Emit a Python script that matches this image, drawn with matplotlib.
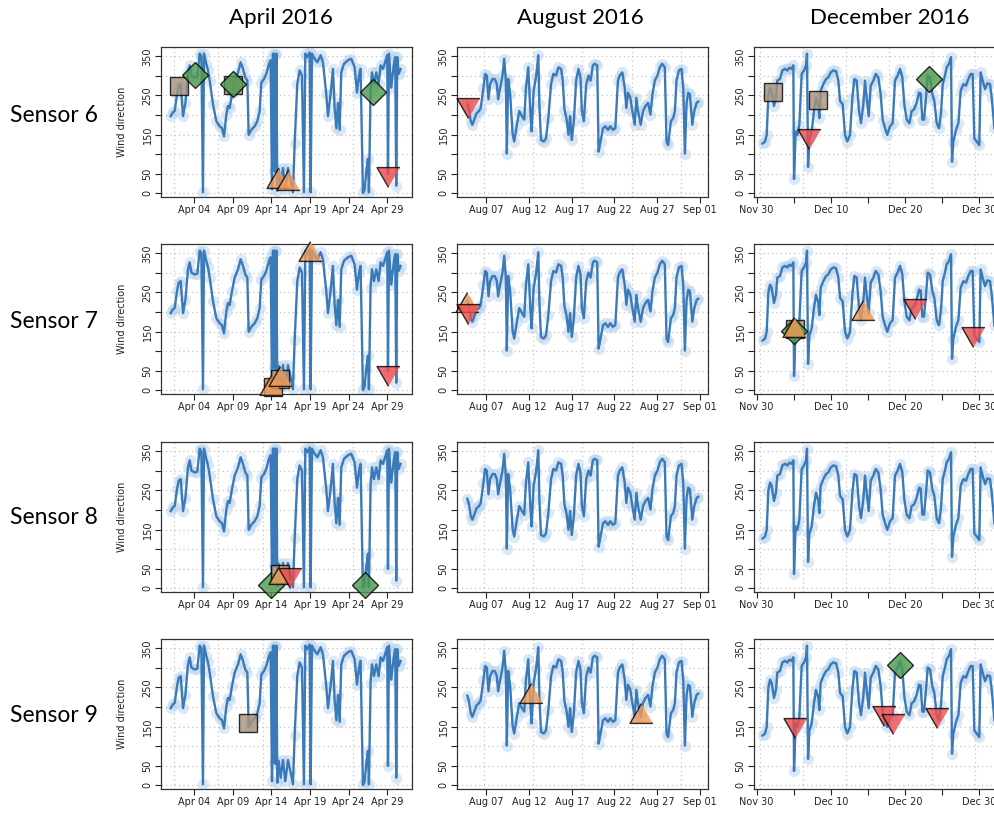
import matplotlib
matplotlib.use('Agg')
import matplotlib.pyplot as plt
import matplotlib.dates as mdates
import numpy as np
import pandas as pd

months = ['April 2016', 'August 2016', 'December 2016']
sensors = ['Sensor 6', 'Sensor 7', 'Sensor 8', 'Sensor 9']
month_starts = ['2016-04-01', '2016-08-01', '2016-12-01']

# wind direction readings (day of month, degrees)
apr_day = [0.98, 1.28, 1.50, 1.80, 2.02, 2.28, 2.58, 2.88, 3.22, 3.44, 3.66, 4.09, 4.43,
           4.73, 4.95, 5.16, 5.29, 5.59, 5.81, 6.03, 6.46, 6.89, 7.32, 7.62, 7.88, 8.18,
           8.40, 8.61, 8.91, 9.26, 9.69, 10.03, 10.34, 10.64, 10.90, 11.07, 11.41, 11.84,
           12.19, 12.49, 12.71, 13.05, 13.35, 13.70, 13.91, 14.09, 14.22, 14.34, 14.43,
           14.52, 14.65, 14.78, 14.95, 15.21, 15.51, 15.81, 16.16, 16.46, 16.80, 17.02,
           17.36, 17.66, 17.97, 18.22, 18.40, 18.66, 18.96, 19.09, 19.26, 19.60, 19.95,
           20.38, 20.68, 21.11, 21.33, 21.67, 21.97, 22.19, 22.41, 22.62, 22.84, 23.05,
           23.40, 23.91, 24.34, 24.78, 25.08, 25.34, 25.55, 25.85, 26.07, 26.28, 26.50,
           26.63, 26.84, 27.02, 27.28, 27.58, 27.88, 28.14, 28.44, 28.66, 29.00, 29.09,
           29.22, 29.52, 29.86, 30.03, 30.16, 30.29, 30.47, 30.72]
apr_dir = [197, 207, 210, 253, 275, 279, 197, 230, 309, 327, 301, 296, 298,
           357, 350, 2, 357, 331, 314, 288, 227, 184, 171, 166, 145, 201,
           223, 218, 253, 288, 309, 335, 318, 296, 288, 149, 162, 171,
           184, 210, 283, 292, 305, 331, 340, 10, 357, 58,
           357, 54, 357, 6, 62, 19, 64, 10, 64, 36, 2, 127,
           279, 314, 301, 2, 357, 348, 360, 2, 357, 344, 335,
           353, 335, 253, 197, 253, 318, 218, 166, 231, 162, 309,
           331, 340, 344, 322, 257, 301, 318, 0, 10, 54, 88,
           2, 262, 309, 279, 309, 279, 327, 318, 331, 353, 49,
           357, 270, 331, 348, 19, 348, 305, 318]

aug_day = [4.76, 4.96, 5.16, 5.35, 5.63, 5.86, 6.14, 6.33, 6.65, 6.84, 7.04, 7.24, 7.43,
           7.71, 7.98, 8.22, 8.37, 8.61, 8.88, 9.08, 9.27, 9.39, 9.55, 9.78, 10.06,
           10.25, 10.57, 10.84, 11.16, 11.43, 11.63, 11.90, 12.14, 12.29, 12.53, 12.80,
           13.08, 13.20, 13.39, 13.71, 13.98, 14.25, 14.57, 14.84, 15.16, 15.43, 15.75,
           15.94, 16.14, 16.37, 16.61, 16.80, 17.00, 17.24, 17.51, 17.78, 18.02, 18.18,
           18.41, 18.69, 18.96, 19.20, 19.47, 19.67, 19.98, 20.14, 20.37, 20.65, 20.92,
           21.24, 21.51, 21.82, 22.10, 22.41, 22.61, 22.92, 23.20, 23.39, 23.59, 23.86,
           24.10, 24.37, 24.57, 24.76, 25.08, 25.35, 25.63, 25.94, 26.22, 26.45, 26.73,
           27.04, 27.31, 27.59, 27.90, 28.10, 28.29, 28.61, 28.88, 29.08, 29.27, 29.55,
           29.86, 30.06, 30.25, 30.45, 30.65, 30.84, 31.12, 31.35, 31.63, 31.82]
aug_dir = [229, 214, 184, 175, 192, 205, 210, 218, 270, 305, 301, 240, 279,
           292, 292, 279, 240, 270, 301, 344, 288, 101, 292, 253, 153,
           132, 175, 210, 197, 188, 270, 322, 210, 158, 262, 296,
           353, 227, 136, 132, 140, 192, 279, 305, 301, 322, 318,
           288, 214, 192, 149, 197, 136, 184, 288, 318, 296, 210,
           184, 279, 301, 288, 327, 331, 327, 106, 132, 166, 171,
           162, 171, 162, 166, 288, 301, 309, 270, 218, 257, 244,
           210, 175, 244, 210, 175, 210, 223, 231, 201, 253, 288,
           301, 322, 331, 322, 132, 123, 184, 192, 210, 288, 314,
           318, 270, 101, 231, 257, 253, 175, 210, 231, 234]

dec_day = [0.81, 1.12, 1.35, 1.57, 1.80, 2.02, 2.33, 2.60, 2.78, 3.14, 3.46, 3.82, 4.13,
           4.40, 4.71, 4.94, 5.03, 5.25, 5.48, 5.75, 6.06, 6.38, 6.65, 6.78, 6.92, 7.10,
           7.41, 7.72, 7.99, 8.31, 8.44, 8.62, 8.98, 9.34, 9.65, 9.97, 10.33, 10.69,
           11.00, 11.23, 11.59, 11.90, 12.21, 12.57, 12.89, 13.16, 13.47, 13.79, 14.05,
           14.37, 14.59, 14.82, 15.09, 15.36, 15.72, 16.03, 16.39, 16.70, 16.97, 17.29,
           17.60, 17.96, 18.32, 18.63, 18.99, 19.31, 19.62, 19.89, 20.21, 20.57, 20.88,
           21.19, 21.55, 21.87, 22.09, 22.32, 22.54, 22.81, 23.04, 23.35, 23.66, 23.93,
           24.25, 24.56, 24.83, 25.06, 25.37, 25.59, 25.91, 26.18, 26.31, 26.49, 26.85,
           27.17, 27.48, 27.84, 28.20, 28.51, 28.83, 29.10, 29.32, 29.64, 29.99, 30.17,
           30.44, 30.76, 31.07, 31.43, 31.66, 32.02]
dec_dir = [127, 132, 149, 249, 270, 262, 223, 244, 288, 292, 314, 318, 314,
           321, 318, 327, 36, 158, 149, 175, 305, 314, 327, 357, 67, 140,
           158, 210, 244, 223, 192, 262, 279, 292, 296, 309, 314, 312,
           288, 236, 227, 149, 132, 149, 244, 292, 288, 210, 179,
           227, 288, 244, 197, 275, 288, 305, 296, 253, 188, 166,
           149, 171, 179, 288, 301, 318, 296, 227, 188, 179, 210,
           214, 231, 257, 255, 188, 188, 244, 301, 296, 253, 236,
           179, 166, 205, 279, 301, 322, 331, 348, 80, 132, 162,
           179, 262, 279, 275, 292, 305, 305, 140, 132, 123, 309,
           288, 266, 281, 279, 244, 166]

# flagged readings per sensor and month: (marker kind, day of month, degrees)
s6_apr = [('sq', 2.1, 273), ('di', 4.13, 303), ('sq', 9.1, 277), ('di', 9.1, 279),
          ('up', 14.9, 38), ('up', 16.2, 34), ('di', 27.1, 260), ('dn', 29.14, 42)]
s6_aug = [('dn', 4.84, 217)]
s6_dec = [('sq', 2.23, 260), ('sq', 8.2, 239), ('dn', 7.1, 139), ('di', 23.2, 293)]
s7_apr = [('sq', 14.2, 9), ('sq', 15.1, 28), ('up', 14.0, 14), ('up', 15.1, 35),
          ('up', 19.0, 356), ('dn', 29.14, 36)]
s7_aug = [('up', 4.7, 225), ('dn', 4.8, 195)]
s7_dec = [('sq', 5.1, 157), ('di', 5.05, 152), ('up', 5.09, 161), ('up', 14.28, 206),
          ('dn', 21.3, 207), ('dn', 29.2, 135)]
s8_apr = [('di', 14.0, 9), ('sq', 15.1, 35), ('up', 15.1, 37), ('dn', 16.4, 26),
          ('di', 26.1, 7)]
s8_aug = []
s8_dec = []
s9_apr = [('sq', 11.0, 159)]
s9_aug = [('up', 12.19, 235), ('up', 25.16, 184)]
s9_dec = [('dn', 5.22, 147), ('dn', 17.1, 177), ('dn', 18.3, 157), ('di', 19.3, 307),
          ('dn', 24.3, 171)]

flags = [[s6_apr, s6_aug, s6_dec],
         [s7_apr, s7_aug, s7_dec],
         [s8_apr, s8_aug, s8_dec],
         [s9_apr, s9_aug, s9_dec]]

series_day = [apr_day, aug_day, dec_day]
series_dir = [apr_dir, aug_dir, dec_dir]
xlims = [(-0.27, 32.2), (3.55, 32.96), (-0.36, 33.45)]

tick_dates = [pd.date_range('2016-04-04', '2016-04-29', freq='5D'),
              pd.date_range('2016-08-07', '2016-09-01', freq='5D'),
              pd.date_range('2016-11-30', '2016-12-30', freq='5D')]
tick_every = [1, 1, 2]

up_tri = [(0, 0.866), (-1, -0.866), (1, -0.866)]
down_tri = [(0, -0.866), (-1, 0.866), (1, 0.866)]
styles = {
    'sq': dict(marker='s', ms=13.5, mfc='#a8937b'),
    'di': dict(marker='D', ms=13.0, mfc='#4e9b4e'),
    'up': dict(marker=up_tri, ms=16.5, mfc='#f09a55'),
    'dn': dict(marker=down_tri, ms=16.5, mfc='#f04b4b'),
}


def to_dates(start, days):
    return pd.Timestamp(start) + pd.to_timedelta(np.asarray(days, dtype=float) - 1, unit='D')


fig = plt.figure(figsize=(9.95, 8.18), dpi=100)
W, H = 995, 818
col_left = [161, 457, 754]
row_top = [47, 244, 442, 639]
aw, ah = 251, 150

for r in range(4):
    for c in range(3):
        ax = fig.add_axes([col_left[c] / W, 1 - (row_top[r] + ah) / H, aw / W, ah / H])
        start = month_starts[c]
        t = to_dates(start, series_day[c])
        ax.scatter(t, series_dir[c], s=66, color='#b9d3ec', alpha=0.5, lw=0, zorder=2)
        ax.plot(t, series_dir[c], color='#3b7ab8', lw=1.7, zorder=3)

        for kind, d, v in flags[r][c]:
            st = styles[kind]
            ax.plot(to_dates(start, [d]), [v], linestyle='none', marker=st['marker'],
                    ms=st['ms'], mfc=st['mfc'], mec='black', mew=1.0, alpha=0.8,
                    zorder=5, clip_on=False)

        x0, x1 = to_dates(start, xlims[c])
        ax.set_xlim(x0, x1)
        ax.set_ylim(-10, 374)

        # dotted grid: horizontal every 50 degrees, vertical every 500000 s
        n0, n1 = mdates.date2num(x0), mdates.date2num(x1)
        step = 500000 / 86400
        for k in range(int(np.ceil(n0 / step)), int(np.floor(n1 / step)) + 1):
            ax.axvline(k * step, color='#c4c4c4', lw=0.9, ls=(0, (1, 2.5)), zorder=1)
        for y in range(0, 351, 50):
            ax.axhline(y, color='#c4c4c4', lw=0.9, ls=(0, (1, 2.5)), zorder=1)

        ax.set_yticks(range(0, 351, 50))
        ax.set_yticklabels(['0', '50', '', '150', '', '250', '', '350'])
        ticks = tick_dates[c]
        ax.set_xticks(ticks)
        ax.set_xticklabels([d.strftime('%b %d') if i % tick_every[c] == 0 else ''
                            for i, d in enumerate(ticks)])
        ax.tick_params(axis='both', direction='out', length=4, width=0.8,
                       labelsize=7, colors='#222222', pad=2)
        ax.tick_params(axis='y', labelrotation=90)
        for lab in ax.get_yticklabels():
            lab.set_va('center')
        for sp in ax.spines.values():
            sp.set_linewidth(0.9)
            sp.set_color('#333333')

        if c == 0:
            fig.text(122 / W, 1 - (row_top[r] + ah / 2) / H, 'Wind direction',
                     rotation=90, fontsize=7, ha='center', va='center', color='#222222')

title_x = [281, 580, 890]
for c, name in enumerate(months):
    fig.text(title_x[c] / W, 1 - 18 / H, name, fontsize=16, family='Lato',
             ha='center', va='center')

label_y = [116, 322, 517, 716]
for r, name in enumerate(sensors):
    fig.text(10 / W, 1 - label_y[r] / H, name, fontsize=16.5, family='Lato',
             ha='left', va='center')

fig.savefig('out.png', dpi=100)
